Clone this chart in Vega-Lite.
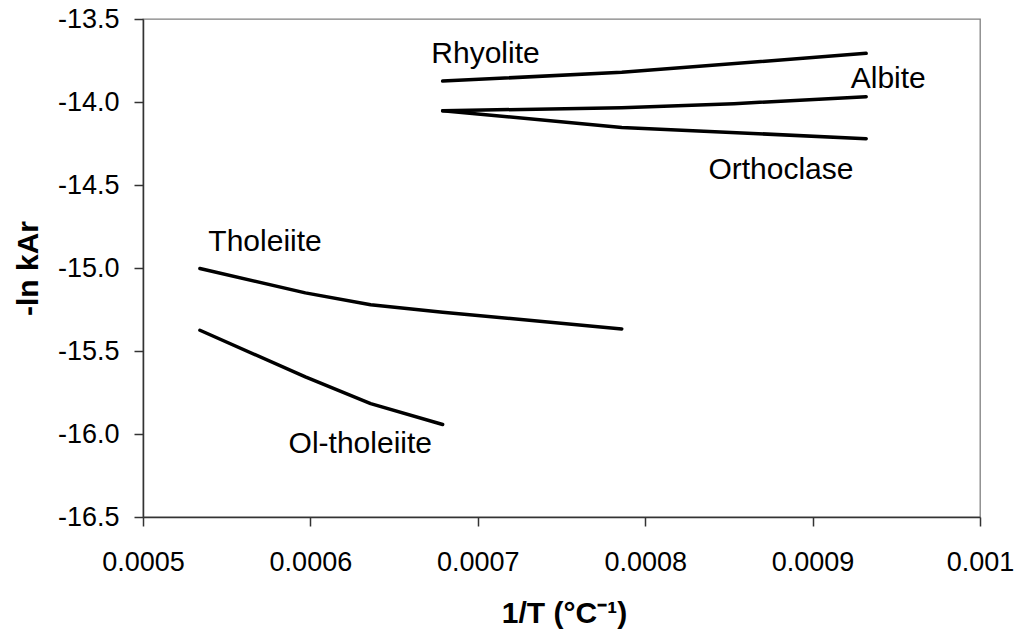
{
  "$schema": "https://vega.github.io/schema/vega-lite/v6.json",
  "description": "-ln kAr against 1/T for silicate melts",
  "autosize": {"type": "none"},
  "padding": {"left": 143, "top": 19, "right": 41, "bottom": 119},
  "width": 837,
  "height": 498,
  "background": "white",
  "config": {
    "font": "Liberation Sans",
    "view": {"stroke": "#808080", "strokeWidth": 1.3}
  },
  "datasets": {
    "curves": [
      {"melt": "Rhyolite", "invT": 0.000679, "lnk": -13.874},
      {"melt": "Rhyolite", "invT": 0.000786, "lnk": -13.821},
      {"melt": "Rhyolite", "invT": 0.000932, "lnk": -13.707},
      {"melt": "Albite", "invT": 0.000679, "lnk": -14.053},
      {"melt": "Albite", "invT": 0.000786, "lnk": -14.034},
      {"melt": "Albite", "invT": 0.000853, "lnk": -14.010},
      {"melt": "Albite", "invT": 0.000932, "lnk": -13.968},
      {"melt": "Orthoclase", "invT": 0.000679, "lnk": -14.053},
      {"melt": "Orthoclase", "invT": 0.000786, "lnk": -14.153},
      {"melt": "Orthoclase", "invT": 0.000932, "lnk": -14.221},
      {"melt": "Tholeiite", "invT": 0.000534, "lnk": -15.003},
      {"melt": "Tholeiite", "invT": 0.000597, "lnk": -15.150},
      {"melt": "Tholeiite", "invT": 0.000636, "lnk": -15.221},
      {"melt": "Tholeiite", "invT": 0.000679, "lnk": -15.266},
      {"melt": "Tholeiite", "invT": 0.000786, "lnk": -15.367},
      {"melt": "Ol-tholeiite", "invT": 0.000534, "lnk": -15.375},
      {"melt": "Ol-tholeiite", "invT": 0.000597, "lnk": -15.656},
      {"melt": "Ol-tholeiite", "invT": 0.000636, "lnk": -15.817},
      {"melt": "Ol-tholeiite", "invT": 0.000679, "lnk": -15.943}
    ],
    "names": [
      {"melt": "Rhyolite", "invT": 0.0007046, "lnk": -13.767},
      {"melt": "Albite", "invT": 0.0009452, "lnk": -13.918},
      {"melt": "Orthoclase", "invT": 0.0008811, "lnk": -14.466},
      {"melt": "Tholeiite", "invT": 0.0005729, "lnk": -14.897},
      {"melt": "Ol-tholeiite", "invT": 0.0006298, "lnk": -16.114}
    ]
  },
  "encoding": {
    "x": {
      "field": "invT",
      "type": "quantitative",
      "scale": {"domain": [0.0005, 0.001], "nice": false, "zero": false},
      "axis": {
        "title": "1/T (°C⁻¹)",
        "values": [0.0005, 0.0006, 0.0007, 0.0008, 0.0009, 0.001],
        "format": "~g",
        "grid": false,
        "domainColor": "#333333",
        "domainWidth": 1.5,
        "tickColor": "#333333",
        "tickWidth": 1.5,
        "tickSize": 9,
        "labelFont": "Liberation Sans",
        "labelFontSize": 27,
        "labelColor": "black",
        "labelPadding": 23,
        "labelFlush": false,
        "titleFont": "Liberation Sans",
        "titleFontSize": 30,
        "titleFontWeight": "bold",
        "titleColor": "black",
        "titleX": 421,
        "titleY": 105,
        "titleBaseline": "alphabetic"
      }
    },
    "y": {
      "field": "lnk",
      "type": "quantitative",
      "scale": {"domain": [-16.5, -13.5], "nice": false, "zero": false},
      "axis": {
        "title": "-ln kAr",
        "values": [-16.5, -16, -15.5, -15, -14.5, -14, -13.5],
        "format": ".1f",
        "labelExpr": "replace(datum.label, '−', '-')",
        "grid": false,
        "domainColor": "#333333",
        "domainWidth": 1.5,
        "tickColor": "#333333",
        "tickWidth": 1.5,
        "tickSize": 9,
        "labelFont": "Liberation Sans",
        "labelFontSize": 27,
        "labelColor": "black",
        "labelPadding": 15,
        "labelFlush": false,
        "titleFont": "Liberation Sans",
        "titleFontSize": 30,
        "titleFontWeight": "bold",
        "titleColor": "black",
        "titleX": -106,
        "titleY": 249,
        "titleAngle": -90,
        "titleAlign": "center",
        "titleBaseline": "alphabetic"
      }
    }
  },
  "layer": [
    {
      "data": {"name": "curves"},
      "mark": {"type": "line", "color": "black", "strokeWidth": 3.5, "strokeCap": "round", "strokeJoin": "round"},
      "encoding": {
        "detail": {"field": "melt", "type": "nominal"}
      }
    },
    {
      "data": {"name": "names"},
      "mark": {"type": "text", "color": "black", "font": "Liberation Sans", "fontSize": 30, "align": "center", "baseline": "alphabetic"},
      "encoding": {
        "text": {"field": "melt", "type": "nominal"}
      }
    }
  ]
}
